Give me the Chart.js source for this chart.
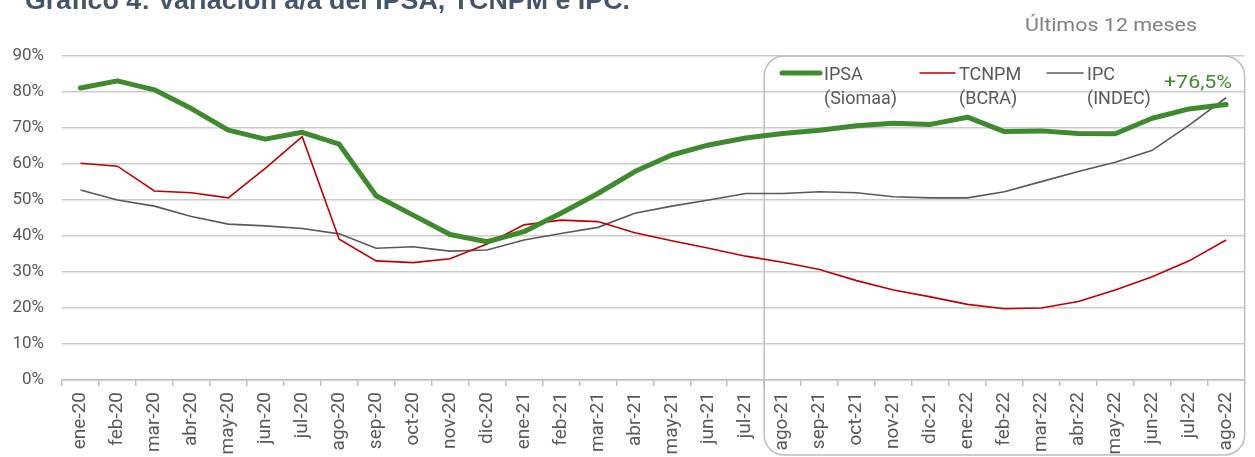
<!DOCTYPE html>
<html>
<head>
<meta charset="utf-8">
<script src="https://cdn.jsdelivr.net/npm/chart.js@4/dist/chart.umd.min.js"></script>
<style>
  html, body { margin: 0; padding: 0; background: #fff; }
  #wrap { width: 1255px; height: 457px; position: relative; }
</style>
</head>
<body>
<div id="wrap"><canvas id="chartIPSA" width="1255" height="457"></canvas></div>
<script>
// Categories (months)
const months = ['ene-20','feb-20','mar-20','abr-20','may-20','jun-20','jul-20','ago-20','sep-20','oct-20','nov-20','dic-20',
  'ene-21','feb-21','mar-21','abr-21','may-21','jun-21','jul-21','ago-21','sep-21','oct-21','nov-21','dic-21',
  'ene-22','feb-22','mar-22','abr-22','may-22','jun-22','jul-22','ago-22'];

// Series values, % a/a
const ipsa = [81.1, 83.1, 80.6, 75.4, 69.4, 66.9, 68.8, 65.5, 51.2, 45.8, 40.4, 38.4,
  41.2, 46.3, 51.8, 57.9, 62.5, 65.3, 67.2, 68.5, 69.4, 70.6, 71.3, 71.0,
  73.0, 69.0, 69.2, 68.5, 68.4, 72.7, 75.3, 76.5];
const tcnpm = [60.2, 59.4, 52.5, 52.0, 50.6, 58.8, 67.6, 39.1, 33.1, 32.6, 33.7, 37.8,
  43.1, 44.4, 44.0, 40.9, 38.7, 36.6, 34.4, 32.7, 30.7, 27.6, 25.0, 23.1,
  21.0, 19.8, 20.0, 21.8, 25.0, 28.7, 33.1, 38.9];
const ipc = [52.8, 50.0, 48.3, 45.4, 43.3, 42.8, 42.1, 40.6, 36.6, 37.0, 35.8, 36.1,
  38.9, 40.7, 42.4, 46.3, 48.3, 50.0, 51.8, 51.8, 52.3, 52.0, 50.9, 50.6,
  50.6, 52.3, 55.1, 57.9, 60.5, 63.8, 70.8, 78.4];

// Y ticks
const yTicks = [0, 10, 20, 30, 40, 50, 60, 70, 80, 90];

const GREEN = '#3f8a2f';
const RED = '#c00000';
const GREY = '#595959';
const FONT = 'Roboto, "Noto Sans", sans-serif';

// draw text squeezed/stretched horizontally to a given width
function fitText(ctx, text, x, y, width, align) {
  const w = ctx.measureText(text).width;
  const sx = width / w;
  ctx.save();
  ctx.textAlign = 'left';
  const left = align === 'right' ? x - width : x;
  ctx.translate(left, y);
  ctx.scale(sx, 1);
  ctx.fillText(text, 0, 0);
  ctx.restore();
}

// draws the "last 12 months" rounded box under the lines
const boxPlugin = {
  id: 'boxPlugin',
  beforeDatasetsDraw(chart) {
    const ctx = chart.ctx;
    const x = chart.scales.x;
    const step = x.getPixelForValue(1) - x.getPixelForValue(0);
    const left = x.getPixelForValue(months.indexOf('ago-21')) - step / 2;
    const right = chart.chartArea.right;
    const top = chart.chartArea.top;
    const bottom = 455;
    ctx.save();
    ctx.strokeStyle = '#bfbfbf';
    ctx.lineWidth = 1.5;
    ctx.beginPath();
    ctx.roundRect(left, top, right - left, bottom - top, 20);
    ctx.stroke();
    ctx.restore();
  }
};

// title, subtitle, legend inside the box
const textPlugin = {
  id: 'textPlugin',
  afterDraw(chart) {
    const ctx = chart.ctx;
    ctx.save();
    ctx.textBaseline = 'alphabetic';

    ctx.fillStyle = '#44546a';
    ctx.font = 'bold 25px "Liberation Sans", Arial, sans-serif';
    fitText(ctx, 'Gráfico 4: Variación a/a del IPSA, TCNPM e IPC.', 25, 9, 605, 'left');

    ctx.fillStyle = '#808080';
    ctx.font = '19px ' + FONT;
    fitText(ctx, 'Últimos 12 meses', 1197, 31, 172, 'right');

    ctx.fillStyle = GREEN;
    ctx.font = '19px ' + FONT;
    fitText(ctx, '+76,5%', 1232, 88, 68, 'right');

    ctx.textAlign = 'left';
    const items = [
      { x1: 782, x2: 820, color: GREEN, w: 5, a: 'IPSA', b: '(Siomaa)' },
      { x1: 920, x2: 955, color: RED, w: 1.5, a: 'TCNPM', b: '(BCRA)' },
      { x1: 1047, x2: 1083, color: GREY, w: 1.5, a: 'IPC', b: '(INDEC)' }
    ];
    items.forEach(it => {
      ctx.strokeStyle = it.color;
      ctx.lineWidth = it.w;
      ctx.lineCap = 'round';
      ctx.beginPath();
      ctx.moveTo(it.x1, 73);
      ctx.lineTo(it.x2, 73);
      ctx.stroke();
      ctx.fillStyle = GREY;
      ctx.font = '18px ' + FONT;
      ctx.fillText(it.a, it.x2 + 4, 80);
      ctx.fillText(it.b, it.x2 + 4, 104);
    });
    ctx.restore();
  }
};

const ctx = document.getElementById('chartIPSA').getContext('2d');
const chart = new Chart(ctx, {
  type: 'line',
  data: {
    labels: months,
    datasets: [
      { label: 'IPSA (Siomaa)', data: ipsa, borderColor: GREEN, borderWidth: 5, tension: 0, borderJoinStyle: 'round', borderCapStyle: 'round' },
      { label: 'TCNPM (BCRA)', data: tcnpm, borderColor: RED, borderWidth: 1.6, tension: 0 },
      { label: 'IPC (INDEC)', data: ipc, borderColor: GREY, borderWidth: 1.6, tension: 0 }
    ]
  },
  options: {
    responsive: false,
    animation: false,
    layout: { padding: { top: 56, right: 5, left: 0, bottom: 0 } },
    elements: { point: { radius: 0 } },
    plugins: { legend: { display: false }, tooltip: { enabled: false } },
    scales: {
      x: {
        offset: true,
        grid: { offset: true, drawOnChartArea: false, drawTicks: true, tickLength: 6, color: '#bfbfbf', lineWidth: 1.5 },
        border: { color: '#bfbfbf', width: 1.5 },
        ticks: { autoSkip: false, minRotation: 90, maxRotation: 90, padding: 6, color: GREY, font: { family: FONT, size: 19 } },
        afterFit(scale) { scale.height = 77; }
      },
      y: {
        min: 0,
        max: 90,
        afterBuildTicks(scale) { scale.ticks = yTicks.map(v => ({ value: v })); },
        grid: { drawTicks: false, color: '#cccccc', lineWidth: 1.5 },
        border: { display: false },
        ticks: { padding: 18, color: GREY, font: { family: FONT, size: 17 }, callback: v => v + '%' },
        afterFit(scale) { scale.width = 62; }
      }
    }
  },
  plugins: [boxPlugin, textPlugin]
});
</script>
</body>
</html>
